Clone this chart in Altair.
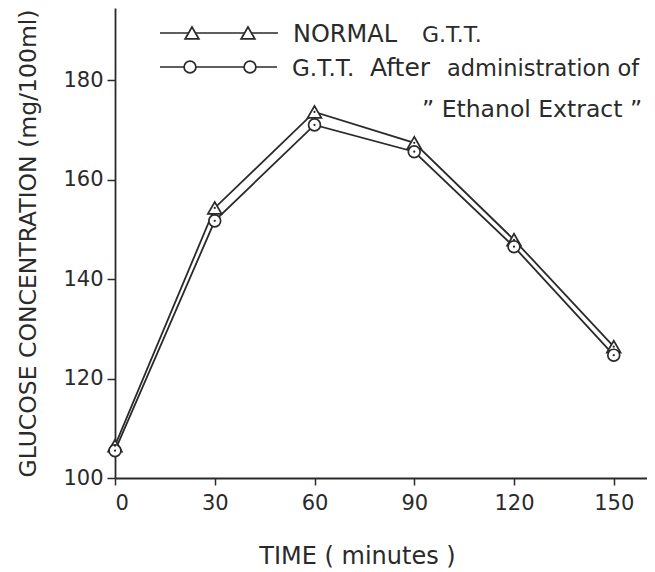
import altair as alt
import pandas as pd

times = [0, 30, 60, 90, 120, 150]
normal = [106.5, 154.3, 173.6, 167.4, 147.9, 126.4]
ethanol = [105.5, 151.7, 171.0, 165.6, 146.5, 124.7]
series_names = ["NORMAL G.T.T.", "G.T.T. After administration of \"Ethanol Extract\""]
y_ticks = [100, 120, 140, 160, 180]
x_ticks = [0, 30, 60, 90, 120, 150]

rows = []
for t, a, b in zip(times, normal, ethanol):
    rows.append({"t": t, "v": a, "s": series_names[0]})
    rows.append({"t": t, "v": b, "s": series_names[1]})
df = pd.DataFrame(rows)

FONT = "DejaVu Sans"
INK = "#2a2a2a"

xs = alt.Scale(domain=[0, 160], nice=False, zero=False)
ys = alt.Scale(domain=[100, 194.5], nice=False, zero=False)

X = alt.X("t:Q", scale=xs, axis=alt.Axis(
    values=x_ticks, title="TIME ( minutes )", grid=False, domainColor=INK, tickColor=INK,
    tickSize=7, tickWidth=1.5, domainWidth=1.8, labelFont=FONT, labelFontSize=21, labelColor=INK,
    labelPadding=7, titleFont=FONT, titleFontSize=24, titleFontWeight="normal", titleColor=INK,
    titlePadding=31, titleX=242))
Y = alt.Y("v:Q", scale=ys, axis=alt.Axis(
    values=y_ticks, title="GLUCOSE CONCENTRATION (mg/100ml)", grid=False, domainColor=INK,
    tickColor=INK, tickSize=8, tickWidth=1.5, domainWidth=1.8, labelFont=FONT, labelFontSize=21,
    labelColor=INK, labelPadding=4, titleFont=FONT, titleFontSize=23.5, titleFontWeight="normal",
    titleColor=INK, titlePadding=22))

base = alt.Chart(df)
lines = base.mark_line(color=INK, strokeWidth=1.8).encode(x=X, y=Y, detail="s:N")
tri = base.transform_filter(alt.datum.s == series_names[0]).mark_point(
    shape="triangle-up", size=190, filled=True, fill="white", stroke=INK, strokeWidth=1.7,
    opacity=1).encode(x=X, y=Y)
circ = base.transform_filter(alt.datum.s == series_names[1]).mark_point(
    shape="circle", size=140, filled=True, fill="white", stroke=INK, strokeWidth=1.7,
    opacity=1).encode(x=X, y=Y)
dots = base.mark_point(shape="circle", size=5, filled=True, color=INK, opacity=1).encode(x=X, y=Y)

# legend (decorative, pixel positions)
leg_df = pd.DataFrame({"k": [0]})
lb = alt.Chart(leg_df)
leg = [
    lb.mark_rule(color=INK, strokeWidth=1.7).encode(x=alt.value(45), x2=alt.value(163), y=alt.value(25)),
    lb.mark_rule(color=INK, strokeWidth=1.7).encode(x=alt.value(45), x2=alt.value(162), y=alt.value(59)),
]
for px in [77, 133]:
    leg.append(lb.mark_point(shape="triangle-up", size=190, filled=True, fill="white", stroke=INK,
                             strokeWidth=1.7, opacity=1).encode(x=alt.value(px), y=alt.value(25)))
for px in [75, 135]:
    leg.append(lb.mark_point(shape="circle", size=140, filled=True, fill="white", stroke=INK,
                             strokeWidth=1.7, opacity=1).encode(x=alt.value(px), y=alt.value(59)))
leg.append(lb.mark_text(text="NORMAL", font=FONT, fontSize=24, align="left", baseline="alphabetic",
                        color=INK).encode(x=alt.value(178), y=alt.value(34)))
leg.append(lb.mark_text(text="G.T.T.", font=FONT, fontSize=22, align="left", baseline="alphabetic",
                        color=INK).encode(x=alt.value(307), y=alt.value(34)))
leg.append(lb.mark_text(text="G.T.T.", font=FONT, fontSize=23, align="left", baseline="alphabetic",
                        color=INK).encode(x=alt.value(177), y=alt.value(68)))
leg.append(lb.mark_text(text="After", font=FONT, fontSize=25, align="left", baseline="alphabetic",
                        color=INK).encode(x=alt.value(255), y=alt.value(68)))
leg.append(lb.mark_text(text="administration of", font=FONT, fontSize=22.5, align="left",
                        baseline="alphabetic", color=INK).encode(x=alt.value(332), y=alt.value(68)))
leg.append(lb.mark_text(text="\u201d Ethanol Extract \u201d", font=FONT, fontSize=23.5, align="left",
                        baseline="alphabetic", color=INK).encode(x=alt.value(307), y=alt.value(109)))

chart = alt.layer(lines, tri, circ, dots, *leg).properties(
    width=532, height=470,
    autosize=alt.AutoSizeParams(type="none"),
    padding={"left": 107, "top": 0, "right": 0, "bottom": 90},
).configure_view(stroke=None)

chart.save("out.html", embed_options={"renderer": "svg", "actions": False})
